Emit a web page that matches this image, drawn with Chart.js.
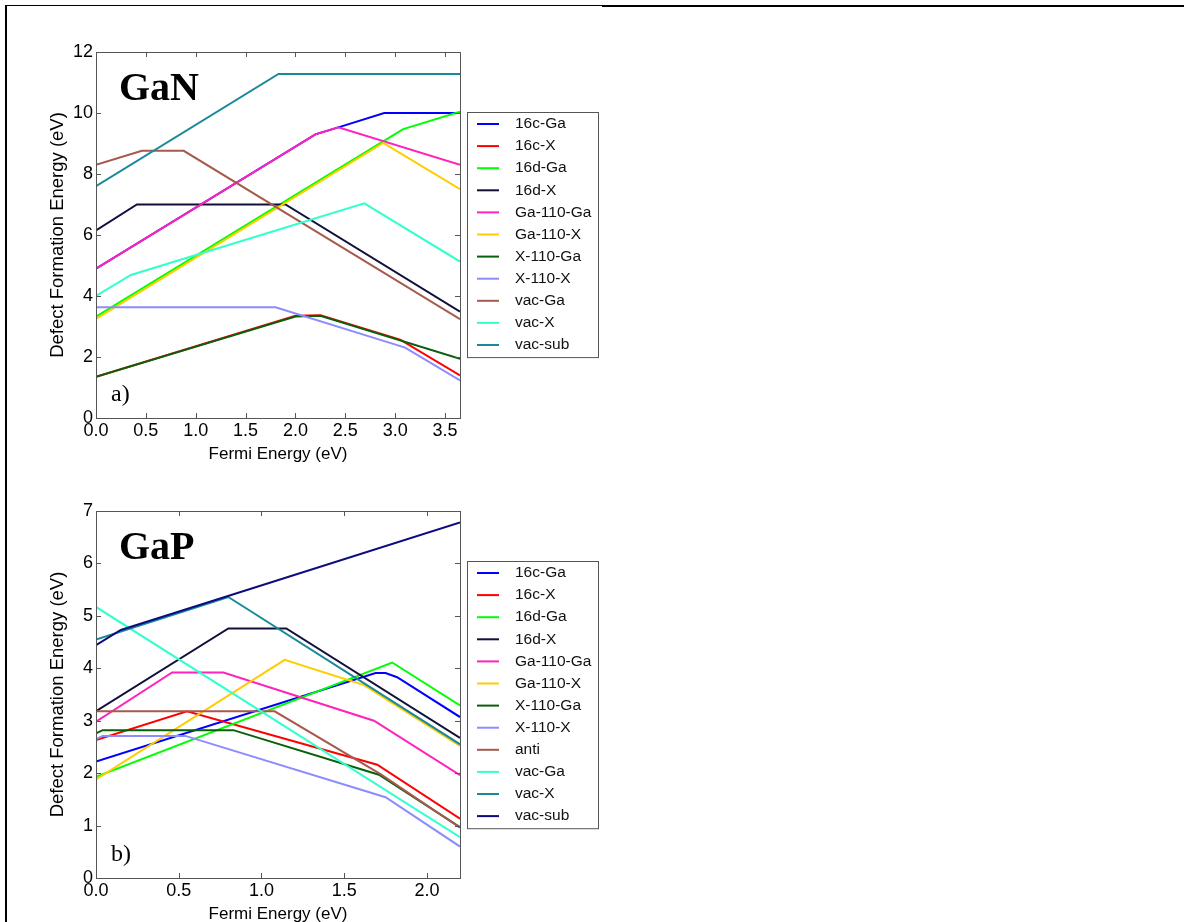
<!DOCTYPE html>
<html>
<head>
<meta charset="utf-8">
<script src="https://cdn.jsdelivr.net/npm/chart.js@4.4.0/dist/chart.umd.min.js"></script>
<style>
  html, body { margin: 0; padding: 0; background: #fff; overflow: hidden; }
  body { width: 1184px; height: 922px; position: relative; }
  canvas { position: absolute; left: 0; }
  #c1 { top: 0; }
  #c2 { top: 480px; }
  .edge { position: absolute; background: #000; }
</style>
</head>
<body>
<div class="edge" style="left:5px; top:5px; width:597px; height:1px;"></div>
<div class="edge" style="left:602px; top:5px; width:582px; height:2px;"></div>
<div class="edge" style="left:5px; top:5px; width:2px; height:917px;"></div>
<canvas id="c1" width="610" height="470"></canvas>
<canvas id="c2" width="610" height="460"></canvas>
<script>
// ---- GaN (a) ----
const ganLabels = ['16c-Ga', '16c-X', '16d-Ga', '16d-X', 'Ga-110-Ga', 'Ga-110-X', 'X-110-Ga', 'X-110-X', 'vac-Ga', 'vac-X', 'vac-sub'];
const gan16cGa = [[0, 4.9], [2.2, 9.3], [2.43, 9.53], [2.89, 10.0], [3.65, 10.0]];
const gan16cX = [[0, 1.35], [2.0, 3.35], [2.25, 3.37], [3.05, 2.57], [3.65, 1.4]];
const gan16dGa = [[0, 3.32], [3.08, 9.47], [3.65, 10.04]];
const gan16dX = [[0, 6.15], [0.41, 7.0], [1.9, 7.0], [3.65, 3.49]];
const ganGa110Ga = [[0, 4.9], [2.2, 9.3], [2.43, 9.53], [3.65, 8.3]];
const ganGa110X = [[0, 3.25], [2.88, 9.02], [3.65, 7.5]];
const ganX110Ga = [[0, 1.35], [2.0, 3.33], [2.25, 3.35], [3.65, 1.94]];
const ganX110X = [[0, 3.63], [1.8, 3.63], [3.1, 2.31], [3.65, 1.23]];
const ganVacGa = [[0, 8.3], [0.46, 8.76], [0.88, 8.76], [3.65, 3.24]];
const ganVacX = [[0, 4.0], [0.35, 4.69], [2.69, 7.04], [3.65, 5.13]];
const ganVacSub = [[0, 7.6], [1.83, 11.28], [3.65, 11.28]];
const ganXTicks = [0, 0.5, 1.0, 1.5, 2.0, 2.5, 3.0, 3.5];
const ganYTicks = [0, 2, 4, 6, 8, 10, 12];

// ---- GaP (b) ----
const gapLabels = ['16c-Ga', '16c-X', '16d-Ga', '16d-X', 'Ga-110-Ga', 'Ga-110-X', 'X-110-Ga', 'X-110-X', 'anti', 'vac-Ga', 'vac-X', 'vac-sub'];
const gap16cGa = [[0, 2.22], [1.69, 3.91], [1.75, 3.91], [1.82, 3.83], [2.2, 3.07]];
const gap16cX = [[0, 2.63], [0.55, 3.18], [1.7, 2.16], [2.2, 1.13]];
const gap16dGa = [[0, 1.93], [1.79, 4.11], [2.2, 3.29]];
const gap16dX = [[0, 3.18], [0.8, 4.76], [1.15, 4.76], [2.2, 2.67]];
const gapGa110Ga = [[0, 2.98], [0.46, 3.92], [0.77, 3.92], [1.68, 3.0], [2.2, 1.96]];
const gapGa110X = [[0, 1.88], [1.14, 4.16], [1.62, 3.68], [2.2, 2.52]];
const gapX110Ga = [[0, 2.76], [0.04, 2.82], [0.83, 2.82], [1.71, 1.97], [2.2, 0.97]];
const gapX110X = [[0, 2.65], [0.04, 2.71], [0.54, 2.71], [1.75, 1.54], [2.2, 0.6]];
const gapAnti = [[0, 3.18], [1.08, 3.18], [1.72, 1.98], [2.2, 0.96]];
const gapVacGa = [[0, 5.17], [2.2, 0.78]];
const gapVacX = [[0, 4.55], [0.8, 5.36], [2.2, 2.55]];
const gapVacSub = [[0, 4.44], [0.15, 4.73], [2.2, 6.78]];
const gapXTicks = [0, 0.5, 1.0, 1.5, 2.0];
const gapYTicks = [0, 1, 2, 3, 4, 5, 6, 7];

// colours, matplotlib-ish
const ganColors = ['#0000ff', '#ff0000', '#00ff00', '#10103a', '#ff22bb', '#ffcc00', '#0a5f0a', '#8c8cff', '#a65a4d', '#33ffcc', '#198a9a'];
const gapColors = ['#0000ff', '#ff0000', '#00ff00', '#10103a', '#ff22bb', '#ffcc00', '#0a5f0a', '#8c8cff', '#a65a4d', '#33ffcc', '#198a9a', '#0c0c80'];

const FONT = "'Liberation Sans', Arial, sans-serif";
const SERIF = "'Liberation Serif', 'Times New Roman', serif";

// inward ticks on all four sides + the box
const frameTicks = {
    id: 'frameTicks',
    afterDatasetsDraw(chart) {
        const { ctx, chartArea: a, scales: { x, y } } = chart;
        const len = 5;
        ctx.save();
        ctx.strokeStyle = '#555';
        ctx.lineWidth = 1;
        ctx.beginPath();
        x.ticks.forEach(t => {
            const px = Math.round(x.getPixelForValue(t.value)) + 0.5;
            ctx.moveTo(px, a.bottom); ctx.lineTo(px, a.bottom - len);
            ctx.moveTo(px, a.top); ctx.lineTo(px, a.top + len);
        });
        y.ticks.forEach(t => {
            const py = Math.round(y.getPixelForValue(t.value)) + 0.5;
            ctx.moveTo(a.left, py); ctx.lineTo(a.left + len, py);
            ctx.moveTo(a.right, py); ctx.lineTo(a.right - len, py);
        });
        ctx.stroke();
        ctx.strokeRect(Math.round(a.left) + 0.5, Math.round(a.top) + 0.5,
            Math.round(a.right - a.left), Math.round(a.bottom - a.top));
        ctx.restore();
    }
};

// boxed legend to the right of the plot, plus the panel captions
const sideLegend = {
    id: 'sideLegend',
    afterDraw(chart, args, opts) {
        const { ctx, chartArea: a } = chart;
        const sets = chart.data.datasets;
        const rowH = 22.1;
        const boxW = 131;
        const boxH = sets.length * rowH + 2;
        const left = a.right + 7;
        const top = Math.round((a.top + a.bottom) / 2 - boxH / 2);
        ctx.save();
        ctx.strokeStyle = '#555';
        ctx.lineWidth = 1;
        ctx.strokeRect(left + 0.5, top + 0.5, boxW, boxH);
        ctx.font = '15.5px ' + FONT;
        ctx.textBaseline = 'middle';
        ctx.fillStyle = '#111';
        sets.forEach((ds, i) => {
            const cy = top + 12 + i * rowH;
            ctx.strokeStyle = ds.borderColor;
            ctx.lineWidth = 2;
            ctx.beginPath();
            ctx.moveTo(left + 10, cy);
            ctx.lineTo(left + 32, cy);
            ctx.stroke();
            ctx.fillText(ds.label, left + 48, cy);
        });

        ctx.fillStyle = '#000';
        ctx.textBaseline = 'alphabetic';
        ctx.font = 'bold 40px ' + SERIF;
        ctx.fillText(opts.name, a.left + 23, a.top + 48);
        ctx.font = '24px ' + SERIF;
        ctx.fillText(opts.panel, a.left + 15, a.bottom - 17);
        ctx.restore();
    }
};

function makeSets(labels, colors, series) {
    return series.map((pts, i) => ({
        label: labels[i],
        data: pts.map(p => ({ x: p[0], y: p[1] })),
        borderColor: colors[i],
        backgroundColor: colors[i],
        borderWidth: 2,
        pointRadius: 0,
        tension: 0,
        fill: false,
        order: -i
    }));
}

function makeChart(id, sets, xMax, yMax, xTicks, yTicks, pad, xAxisH, titlePadBottom, name, panel) {
    return new Chart(document.getElementById(id), {
        type: 'line',
        data: { datasets: sets },
        plugins: [frameTicks, sideLegend],
        options: {
            responsive: false,
            animation: false,
            devicePixelRatio: 1,
            layout: { padding: pad },
            plugins: {
                legend: { display: false },
                tooltip: { enabled: false },
                sideLegend: { name: name, panel: panel }
            },
            scales: {
                x: {
                    type: 'linear',
                    min: 0,
                    max: xMax,
                    grid: { display: false, drawTicks: false },
                    border: { display: false },
                    afterBuildTicks: s => { s.ticks = xTicks.map(v => ({ value: v })); },
                    afterFit: s => { s.height = xAxisH; },
                    ticks: {
                        padding: 2,
                        color: '#000',
                        maxRotation: 0,
                        autoSkip: false,
                        font: { family: FONT, size: 18 },
                        callback: v => v.toFixed(1)
                    },
                    title: {
                        display: true,
                        text: 'Fermi Energy (eV)',
                        color: '#000',
                        font: { family: FONT, size: 17 },
                        padding: { top: 0, bottom: titlePadBottom }
                    }
                },
                y: {
                    min: 0,
                    max: yMax,
                    grid: { display: false, drawTicks: false },
                    border: { display: false },
                    afterBuildTicks: s => { s.ticks = yTicks.map(v => ({ value: v })); },
                    afterFit: s => { s.width = 96; },
                    ticks: {
                        padding: 3,
                        color: '#000',
                        autoSkip: false,
                        font: { family: FONT, size: 18 },
                        callback: v => String(v)
                    },
                    title: {
                        display: true,
                        text: 'Defect Formation Energy (eV)',
                        color: '#000',
                        font: { family: FONT, size: 18.5 },
                        padding: { top: 47, bottom: 0 }
                    }
                }
            }
        }
    });
}

const ganSets = makeSets(ganLabels, ganColors,
    [gan16cGa, gan16cX, gan16dGa, gan16dX, ganGa110Ga, ganGa110X, ganX110Ga, ganX110X, ganVacGa, ganVacX, ganVacSub]);
const gapSets = makeSets(gapLabels, gapColors,
    [gap16cGa, gap16cX, gap16dGa, gap16dX, gapGa110Ga, gapGa110X, gapX110Ga, gapX110X, gapAnti, gapVacGa, gapVacX, gapVacSub]);

makeChart('c1', ganSets, 3.65, 12, ganXTicks, ganYTicks,
    { left: 0, top: 52, right: 150, bottom: 0 }, 52, 5, 'GaN', 'a)');
makeChart('c2', gapSets, 2.2, 7, gapXTicks, gapYTicks,
    { left: 0, top: 31, right: 150, bottom: 0 }, 62, 15, 'GaP', 'b)');
</script>
</body>
</html>
